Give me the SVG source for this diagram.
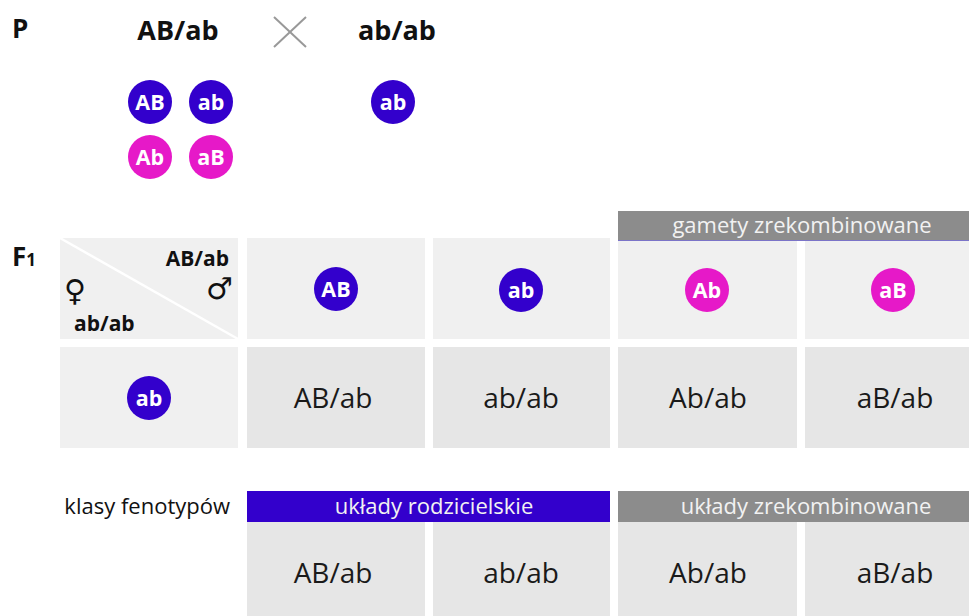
<svg xmlns="http://www.w3.org/2000/svg" width="969" height="616" viewBox="0 0 969 616">
<style>
text{font-family:"Open Sans","Liberation Sans",sans-serif;}
.b{font-weight:bold;fill:#111}
.r{fill:#1a1a1a;font-size:28px;text-anchor:middle}
.hc{fill:#f0f0f0}
.dc{fill:#e6e6e6}
.blue{fill:#3300cc}
.mag{fill:#e619c8}
.ct{fill:#fff;font-weight:bold;font-size:21.5px;text-anchor:middle}
.ban{fill:#f2f2f2;font-size:22px;text-anchor:middle}
.sym{font-family:"DejaVu Sans",sans-serif;font-weight:bold;fill:#111;font-size:30px}
</style>
<rect width="969" height="616" fill="#fff"/>
<g id="parents">
<text class="b" x="12" y="38" font-size="26">P</text>
<text class="b" x="178" y="40" font-size="27" text-anchor="middle">AB/ab</text>
<path d="M274 17 L306 47 M306 17 L274 47" stroke="#999" stroke-width="2" fill="none"/>
<text class="b" x="397" y="40" font-size="27" text-anchor="middle">ab/ab</text>
</g>
<g id="gametes-p">
<circle class="blue" cx="150" cy="102" r="22"/><text class="ct" x="150" y="109.5">AB</text>
<circle class="blue" cx="211" cy="102" r="22"/><text class="ct" x="211" y="109.5">ab</text>
<circle class="mag" cx="150" cy="157" r="22"/><text class="ct" x="150" y="164.5">Ab</text>
<circle class="mag" cx="211" cy="157" r="22"/><text class="ct" x="211" y="164.5">aB</text>
<circle class="blue" cx="393" cy="102" r="22"/><text class="ct" x="393" y="109.5">ab</text>
</g>
<g id="f1-label"><text class="b" x="12" y="266" font-size="26">F<tspan font-size="17">1</tspan></text></g>
<g id="banner-gamety">
<rect x="618" y="211" width="351" height="30" fill="#8c8c8c"/>
<line x1="618" y1="240.5" x2="969" y2="240.5" stroke="#7b74c8" stroke-width="1"/>
<text class="ban" x="802" y="233">gamety zrekombinowane</text>
</g>
<g id="corner">
<rect class="hc" x="60" y="238" width="178" height="101"/>
<line x1="60" y1="238" x2="238" y2="339" stroke="#fff" stroke-width="2.5"/>
<text class="b" x="229" y="266" font-size="21" text-anchor="end">AB/ab</text>
<text class="sym" x="233" y="299" text-anchor="end">♂</text>
<text class="sym" x="64" y="301">♀</text>
<text class="b" x="74" y="331" font-size="21">ab/ab</text>
</g>
<g id="h1"><rect class="hc" x="247" y="238" width="178" height="101"/><circle class="blue" cx="336" cy="289" r="22"/><text class="ct" x="336" y="296.5">AB</text></g>
<g id="h2"><rect class="hc" x="433" y="238" width="177" height="101"/><circle class="blue" cx="521" cy="290" r="22"/><text class="ct" x="521" y="297.5">ab</text></g>
<g id="h3"><rect class="hc" x="618" y="241" width="179" height="98"/><circle class="mag" cx="707" cy="290" r="22"/><text class="ct" x="707" y="297.5">Ab</text></g>
<g id="h4"><rect class="hc" x="805" y="241" width="164" height="98"/><circle class="mag" cx="893" cy="290" r="22"/><text class="ct" x="893" y="297.5">aB</text></g>
<g id="row-ab"><rect class="hc" x="60" y="347" width="178" height="101"/><circle class="blue" cx="149" cy="398" r="22"/><text class="ct" x="149" y="405.5">ab</text></g>
<g id="c1"><rect class="dc" x="247" y="347" width="178" height="101"/><text class="r" x="333" y="408">AB/ab</text></g>
<g id="c2"><rect class="dc" x="433" y="347" width="177" height="101"/><text class="r" x="521" y="408">ab/ab</text></g>
<g id="c3"><rect class="dc" x="618" y="347" width="179" height="101"/><text class="r" x="708" y="408">Ab/ab</text></g>
<g id="c4"><rect class="dc" x="805" y="347" width="164" height="101"/><text class="r" x="895" y="408">aB/ab</text></g>
<g id="classes">
<text x="230" y="514" font-size="22" fill="#111" text-anchor="end">klasy fenotypów</text>
<rect x="247" y="491" width="363" height="31" fill="#3300cc"/>
<text class="ban" x="434" y="514">układy rodzicielskie</text>
<rect x="618" y="491" width="351" height="31" fill="#8c8c8c"/>
<text class="ban" x="806" y="514">układy zrekombinowane</text>
</g>
<g id="p1"><rect class="dc" x="247" y="522" width="178" height="94"/><text class="r" x="333" y="583">AB/ab</text></g>
<g id="p2"><rect class="dc" x="433" y="522" width="177" height="94"/><text class="r" x="521" y="583">ab/ab</text></g>
<g id="p3"><rect class="dc" x="618" y="522" width="179" height="94"/><text class="r" x="708" y="583">Ab/ab</text></g>
<g id="p4"><rect class="dc" x="805" y="522" width="164" height="94"/><text class="r" x="895" y="583">aB/ab</text></g>
<g id="connectors"></g>
</svg>
